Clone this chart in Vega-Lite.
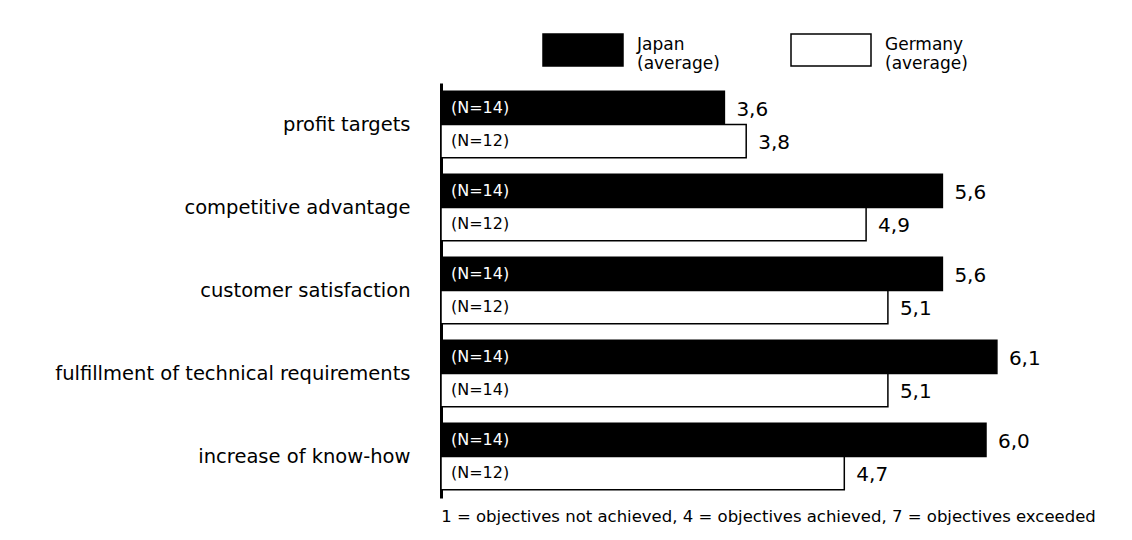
{
  "$schema": "https://vega.github.io/schema/vega-lite/v6.json",
  "width": 654,
  "height": 415,
  "autosize": {"type": "none"},
  "padding": {"left": 441, "top": 83, "right": 37, "bottom": 42},
  "background": "white",
  "config": {
    "view": {"stroke": null},
    "font": "DejaVu Sans",
    "locale": {"number": {"decimal": ",", "thousands": ".", "grouping": [3], "currency": ["", " €"]}}
  },
  "data": {
    "values": [
      {"objective": "profit targets", "country": "Japan", "value": 3.6, "n": "(N=14)"},
      {"objective": "profit targets", "country": "Germany", "value": 3.8, "n": "(N=12)"},
      {"objective": "competitive advantage", "country": "Japan", "value": 5.6, "n": "(N=14)"},
      {"objective": "competitive advantage", "country": "Germany", "value": 4.9, "n": "(N=12)"},
      {"objective": "customer satisfaction", "country": "Japan", "value": 5.6, "n": "(N=14)"},
      {"objective": "customer satisfaction", "country": "Germany", "value": 5.1, "n": "(N=12)"},
      {"objective": "fulfillment of technical requirements", "country": "Japan", "value": 6.1, "n": "(N=14)"},
      {"objective": "fulfillment of technical requirements", "country": "Germany", "value": 5.1, "n": "(N=14)"},
      {"objective": "increase of know-how", "country": "Japan", "value": 6.0, "n": "(N=14)"},
      {"objective": "increase of know-how", "country": "Germany", "value": 4.7, "n": "(N=12)"}
    ]
  },
  "encoding": {
    "y": {
      "field": "objective",
      "type": "nominal",
      "sort": ["profit targets", "competitive advantage", "customer satisfaction", "fulfillment of technical requirements", "increase of know-how"],
      "scale": {"paddingInner": 0.2, "paddingOuter": 0.1},
      "axis": {
        "title": null,
        "labelFontSize": 19.5,
        "labelColor": "black",
        "labelPadding": 31,
        "ticks": false,
        "domainColor": "black",
        "domainWidth": 3,
        "labelLimit": 0
      }
    },
    "yOffset": {"field": "country", "sort": ["Japan", "Germany"]}
  },
  "layer": [
    {
      "mark": {"type": "bar", "stroke": "black", "strokeWidth": 1.5, "cornerRadius": 0},
      "encoding": {
        "x": {
          "field": "value",
          "type": "quantitative",
          "scale": {"domain": [1, 7], "zero": false, "nice": false},
          "axis": {
            "title": "1 = objectives not achieved, 4 = objectives achieved, 7 = objectives exceeded",
            "labels": false,
            "ticks": false,
            "domain": false,
            "grid": false,
            "titleFontSize": 16.5,
            "titleFontWeight": "normal",
            "titlePadding": 10,
            "titleColor": "black"
          }
        },
        "x2": {"datum": 1},
        "fill": {
          "field": "country",
          "type": "nominal",
          "scale": {"domain": ["Japan", "Germany"], "range": ["black", "white"]},
          "legend": {
            "title": null,
            "orient": "none",
            "legendX": 101,
            "legendY": -74,
            "direction": "horizontal",
            "padding": 0,
            "symbolType": "M-1,-0.4H1V0.4H-1Z",
            "symbolSize": 6400,
            "symbolStrokeColor": "black",
            "symbolStrokeWidth": 1.5,
            "symbolOpacity": 1,
            "labelExpr": "[datum.label, '(average)']",
            "labelFontSize": 17,
            "labelColor": "black",
            "labelOffset": 13,
            "labelLimit": 0,
            "labelBaseline": "alphabetic",
            "columnPadding": 68
          }
        }
      }
    },
    {
      "mark": {"type": "text", "align": "left", "dx": 10, "fontSize": 16},
      "encoding": {
        "x": {"datum": 1},
        "text": {"field": "n"},
        "color": {"condition": {"test": "datum.country === 'Japan'", "value": "white"}, "value": "black"}
      }
    },
    {
      "mark": {"type": "text", "align": "left", "dx": 12, "dy": 2, "fontSize": 20, "color": "black"},
      "encoding": {
        "x": {"field": "value", "type": "quantitative"},
        "text": {"field": "value", "type": "quantitative", "format": ".1f"}
      }
    }
  ]
}
